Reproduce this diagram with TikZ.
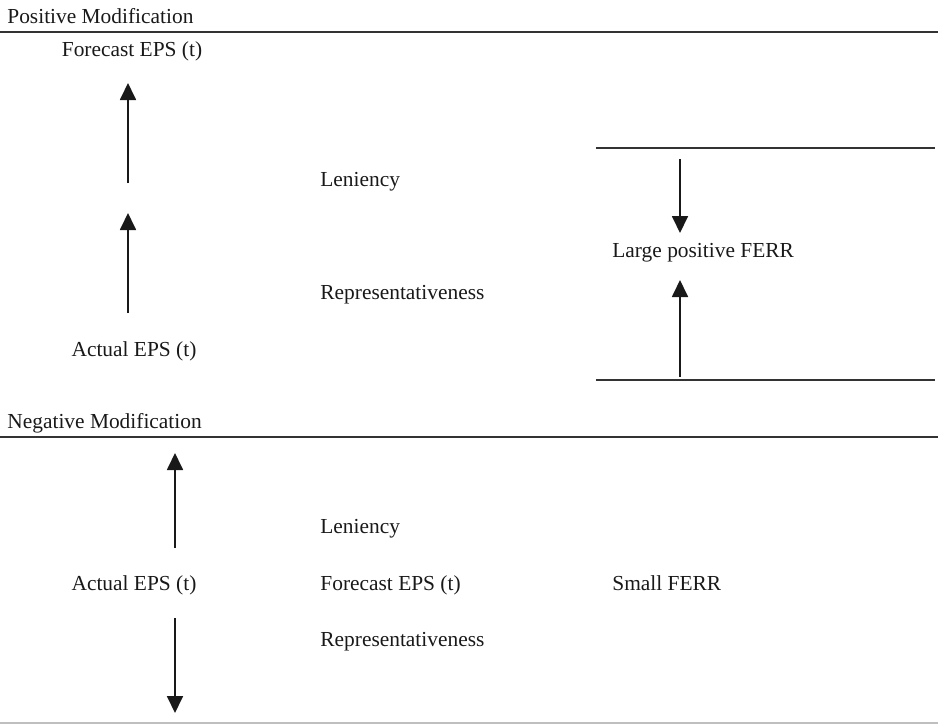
\documentclass[tikz,border=0pt]{standalone}
\usepackage{fontspec}
\setmainfont{Liberation Serif}
\usetikzlibrary{arrows.meta, positioning}

\begin{document}
\begin{tikzpicture}[x=0.5pt, y=-0.5pt,
        lbl/.style={inner sep=0pt, anchor=base west, text=black!90, font=\fontsize{10.7}{13}\selectfont},
        rule/.style={line width=0.9pt, black!80},
        arr/.style={-{Triangle[width=8pt,length=8.5pt]}, line width=0.9pt, black!90}]
    \useasboundingbox (0,0) rectangle (938,724);

    % positive modification
    \node[lbl] (pos) at (7,23) {Positive Modification};
    \coordinate (p0) at (0,32);
    \coordinate (p1) at (938,32);
    \draw[rule] (p0) -- (p1);

    \node[lbl, anchor=base] (fc1) at (132,56) {Forecast EPS (t)};
    \node[lbl, anchor=base] (ac1) at (134,356) {Actual EPS (t)};
    \node[lbl] (len1) at (320,186) {Leniency};
    \node[lbl] (rep1) at (320,299) {Representativeness};
    \node[lbl] (large) at (612,257) {Large positive FERR};

    \coordinate (a1s) at (128,183);
    \coordinate (a1e) at (128,83);
    \coordinate (a2s) at (128,313);
    \coordinate (a2e) at (128,213);
    \draw[arr] (a2s) -- (a2e);
    \draw[arr] (a1s) -- (a1e);

    \coordinate (r1) at (596,148);
    \coordinate (r2) at (935,148);
    \coordinate (r3) at (596,380);
    \coordinate (r4) at (935,380);
    \draw[rule] (r1) -- (r2);
    \draw[rule] (r3) -- (r4);
    \coordinate (d1s) at (680,159);
    \coordinate (d1e) at (680,233);
    \coordinate (u1s) at (680,377);
    \coordinate (u1e) at (680,280);
    \draw[arr] (d1s) -- (d1e);
    \draw[arr] (u1s) -- (u1e);

    % negative modification
    \node[lbl] (neg) at (7,428) {Negative Modification};
    \coordinate (n0) at (0,437);
    \coordinate (n1) at (938,437);
    \draw[rule] (n0) -- (n1);

    \node[lbl] (len2) at (320,533) {Leniency};
    \node[lbl, anchor=base] (ac2) at (134,590) {Actual EPS (t)};
    \node[lbl] (fc2) at (320,590) {Forecast EPS (t)};
    \node[lbl] (small) at (612,590) {Small FERR};
    \node[lbl] (rep2) at (320,646) {Representativeness};

    \coordinate (u2s) at (175,548);
    \coordinate (u2e) at (175,453);
    \coordinate (d2s) at (175,618);
    \coordinate (d2e) at (175,713);
    \draw[arr] (u2s) -- (u2e);
    \draw[arr] (d2s) -- (d2e);

    \coordinate (b0) at (0,723);
    \coordinate (b1) at (938,723);
    \draw[line width=0.9pt, black!25] (b0) -- (b1);
\end{tikzpicture}
\end{document}
